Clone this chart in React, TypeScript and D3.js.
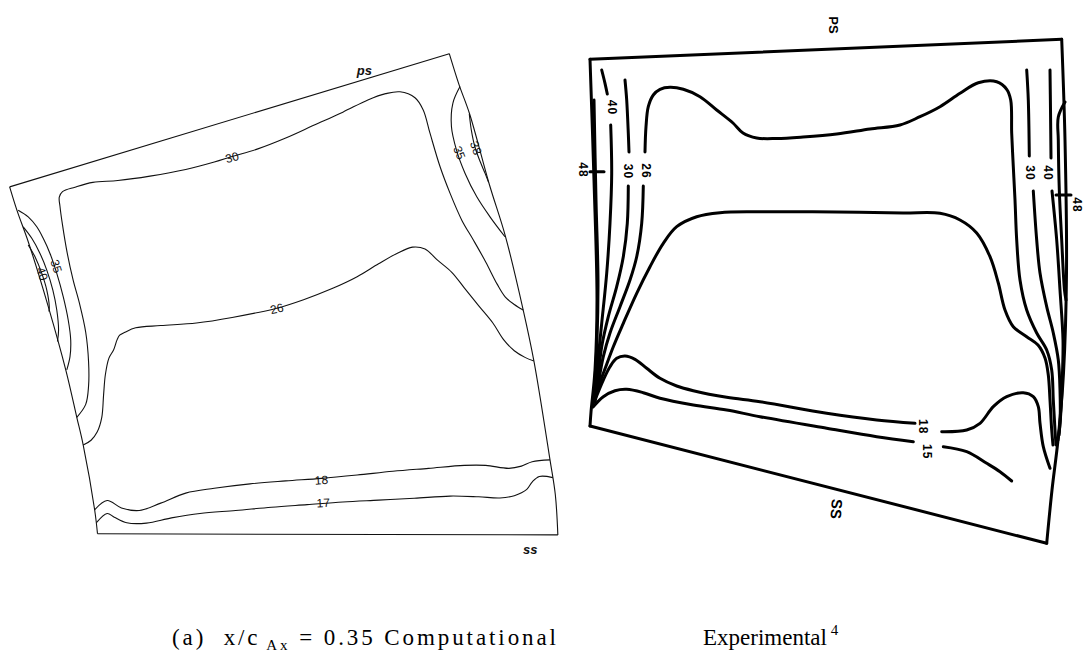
import React from "react";
import * as d3 from "d3";

type P = [number, number];

// ---------- Computational section (digitiser grid 0..1568 on both axes) ----------
const compTop: P[] = [[27, 397], [1258, 37]];
const compLeft: P[] = [[27, 397], [48, 462], [80, 548], [135, 720], [185, 895], [215, 1020], [233, 1095], [265, 1270], [273, 1335]];
const compRight: P[] = [[1258, 37], [1285, 120], [1315, 200], [1370, 390], [1415, 530], [1465, 730], [1495, 868], [1540, 1135], [1555, 1230], [1562, 1338]];
const compBottom: P[] = [[273, 1335], [1562, 1338]];

const comp30: P[] = [[215, 1020], [240, 985], [248, 935], [248, 870], [240, 790], [222, 710], [205, 650], [188, 575], [175, 500], [168, 450], [166, 425], [175, 410], [210, 398], [260, 385], [330, 380], [420, 368], [520, 350], [600, 330], [650, 315], [720, 295], [800, 265], [880, 230], [960, 195], [1030, 162], [1080, 145], [1120, 140], [1162, 156], [1185, 189], [1204, 252], [1232, 342], [1260, 414], [1293, 487], [1325, 540], [1360, 600], [1392, 660], [1415, 695], [1440, 715], [1465, 730]];
const comp26: P[] = [[233, 1095], [255, 1082], [272, 1060], [285, 1020], [290, 960], [295, 905], [305, 860], [318, 838], [328, 810], [335, 798], [350, 790], [380, 778], [450, 772], [550, 765], [650, 750], [775, 725], [850, 702], [930, 672], [1000, 640], [1060, 605], [1110, 578], [1155, 560], [1190, 565], [1225, 595], [1265, 628], [1300, 670], [1340, 718], [1380, 765], [1410, 810], [1440, 840], [1470, 858], [1495, 868]];
const comp18: P[] = [[265, 1270], [300, 1245], [340, 1265], [390, 1272], [450, 1252], [520, 1225], [600, 1212], [700, 1200], [800, 1192], [900, 1185], [1000, 1176], [1100, 1166], [1200, 1158], [1300, 1150], [1360, 1150], [1425, 1158], [1460, 1152], [1490, 1140], [1540, 1135]];
const comp17: P[] = [[270, 1305], [300, 1280], [320, 1290], [355, 1305], [410, 1306], [480, 1292], [560, 1280], [660, 1272], [760, 1263], [860, 1256], [960, 1249], [1060, 1244], [1160, 1239], [1260, 1233], [1340, 1235], [1400, 1238], [1440, 1232], [1475, 1215], [1490, 1195], [1510, 1180], [1548, 1183]];
const comp35R: P[] = [[1288, 126], [1268, 171], [1264, 234], [1278, 297], [1302, 360], [1335, 424], [1372, 478], [1414, 532]];
const comp38R: P[] = [[1314, 200], [1320, 245], [1330, 290], [1345, 330], [1358, 360], [1368, 385]];
const comp35L: P[] = [[51, 460], [79, 478], [103, 505], [121, 536], [140, 577], [159, 631], [177, 694], [191, 757], [198, 811], [196, 856], [187, 892]];
const comp38L: P[] = [[65, 505], [89, 536], [112, 577], [131, 622], [148, 676], [159, 730], [164, 784], [161, 815]];
const comp40L: P[] = [[79, 554], [98, 586], [117, 631], [131, 676], [138, 721], [137, 734]];

// contour labels: [x, y, angle, text]
const compLabels: [number, number, number, string][] = [
  [650, 318, -16, "30"],
  [775, 727, -13, "26"],
  [900, 1190, -4, "18"],
  [905, 1252, -3, "17"],
  [1286, 305, 68, "35"],
  [1332, 292, 70, "38"],
  [157, 612, 72, "35"],
  [118, 632, 72, "40"],
];

// ---------- Experimental section (local units, origin at x = 570) ----------
const expTop: P[] = [[20, 59.3], [491.7, 39.3]];
const expLeft: P[] = [[20, 59.3], [24, 180], [27, 300], [25, 370], [21, 412], [20, 426]];
const expBottom: P[] = [[20, 426], [476.7, 543.3]];
const expRight: P[] = [[491.7, 39.3], [495, 140], [496.5, 273], [493.5, 373], [488, 440], [482, 490], [476.7, 543.3]];

const exp48L: P[] = [[24, 100], [26, 200], [28, 280], [27, 340], [24, 395]];
const exp40LUpper: P[] = [[31.7, 70], [35, 83.3], [37.3, 94]];
const exp40LLower: P[] = [[40.7, 125], [41.7, 173.3], [40, 223.3], [36.7, 273.3], [31.7, 323.3], [28.3, 356.7], [25, 390], [23, 405]];
const exp30LUpper: P[] = [[55, 80], [56.7, 100], [58.3, 133.3], [59, 152]];
const exp30LLower: P[] = [[58.3, 186], [57.3, 223.3], [53.3, 256.7], [46.7, 286.7], [38.3, 316.7], [31.7, 346.7], [28.3, 373.3], [24, 400]];
const exp26LLower: P[] = [[73.3, 186], [71.7, 223.3], [66.7, 256.7], [60, 280], [50, 306.7], [40, 333], [33.3, 356.7], [28.3, 383.3], [25, 402]];
const exp26Upper: P[] = [[75, 152], [76, 126.7], [78.3, 106.7], [83.3, 95], [90, 89.3], [100, 87.3], [113.3, 89.3], [130, 96.7], [146.7, 110], [163, 123], [173, 133], [186.7, 138], [206.7, 138.5], [233, 137], [266.7, 134], [300, 129], [330, 125], [350, 116.7], [370, 106.7], [390, 93.3], [408.3, 82.7], [426.7, 81.7], [436.7, 89.3], [440.7, 100], [441.7, 133.3], [443.3, 166.7], [445, 200], [446.7, 240], [450, 280], [456.7, 310], [466.7, 333], [476.7, 350], [481.7, 370], [483.3, 400], [485, 430], [486, 445]];
const expDome: P[] = [[25, 395], [33.3, 373.3], [43.3, 346.7], [53.3, 323.3], [66.7, 293.3], [80, 266.7], [93.3, 243.3], [106.7, 226.7], [126.7, 216.7], [150, 212.7], [183.3, 211.7], [200, 211.7], [266.7, 212], [333, 213], [370, 213.3], [390, 220], [406.7, 233], [420, 256.7], [428.3, 283], [435, 310], [443.3, 326.7], [456.7, 336.7], [468, 345], [475, 358], [478.3, 375], [480, 400], [481.7, 430], [483, 445]];
const exp30RUpper: P[] = [[456.7, 70], [458.3, 100], [459.3, 156]];
const exp30RLower: P[] = [[463.3, 191], [466.7, 240], [470, 273], [476.7, 306.7], [483.3, 333], [488.3, 360], [490, 390], [490, 423], [488, 440]];
const exp40RUpper: P[] = [[480, 70], [480.5, 110], [481, 158]];
const exp40RLower: P[] = [[482, 191], [486.7, 240], [490, 290], [493, 340], [492.5, 373], [491, 410], [489, 435]];
const exp48R: P[] = [[495, 102], [488.3, 117], [488.3, 140], [489.3, 190], [491.7, 240], [494.5, 290], [496, 300]];
const exp18A: P[] = [[25, 400], [33.3, 380], [40, 366.7], [46.7, 358.3], [55, 356], [65, 359.3], [76.7, 368.3], [90, 378.3], [106.7, 386], [123.3, 390.7], [156.7, 397.3], [190, 401.7], [256.7, 413.3], [306.7, 420], [345, 423.3]];
const exp18B: P[] = [[371.7, 431.7], [396.7, 430], [410, 423.3], [423.3, 406.7], [436.7, 396.7], [453.3, 392.7], [463.3, 396.7], [468.3, 406.7], [470, 423.3], [473.3, 446.7], [480, 468.3]];
const exp15A: P[] = [[23, 407], [33.3, 396.7], [45, 390.7], [56.7, 389.3], [73.3, 392.7], [90, 398.3], [123.3, 405], [156.7, 410], [190, 416.7], [256.7, 428.3], [306.7, 436.7], [343.3, 441.7]];
const exp15B: P[] = [[373.3, 446.7], [396.7, 451.7], [416.7, 463.3], [430, 471.7], [441.7, 481]];
const expLeaders: P[][] = [
  [[20, 171.7], [34, 171.7]],
  [[486, 195], [501, 195]],
];

const expLabels: [number, number, string][] = [
  [41.7, 107.5, "40"],
  [58.3, 171.5, "30"],
  [76, 171, "26"],
  [460, 173, "30"],
  [478.3, 173, "40"],
  [353.3, 426.7, "18"],
  [356.7, 451.7, "15"],
];
const expSideLabels: [number, number, string][] = [
  [12.5, 170, "48"],
  [506.5, 205, "48"],
];

export default function App() {
  const xL = d3.scaleLinear().domain([0, 1568]).range([0, 560]);
  const yL = d3.scaleLinear().domain([0, 1568]).range([40, 620]);
  const xR = d3.scaleLinear().domain([0, 500]).range([570, 1070]);
  const yR = d3.scaleLinear().domain([0, 560]).range([0, 560]);

  const lineL = d3.line<P>().x((d) => xL(d[0])).y((d) => yL(d[1])).curve(d3.curveCatmullRom.alpha(0.5));
  const lineR = d3.line<P>().x((d) => xR(d[0])).y((d) => yR(d[1])).curve(d3.curveCatmullRom.alpha(0.5));

  const compLines = [compTop, compLeft, compRight, compBottom, comp30, comp26, comp18, comp17, comp35R, comp38R, comp35L, comp38L, comp40L];
  const expLines = [expTop, expLeft, expBottom, expRight, exp48L, exp40LUpper, exp40LLower, exp30LUpper, exp30LLower, exp26LLower, exp26Upper, expDome, exp30RUpper, exp30RLower, exp40RUpper, exp40RLower, exp48R, exp18A, exp18B, exp15A, exp15B, ...expLeaders];

  return (
    <svg width={1083} height={657} style={{ position: "absolute", left: 0, top: 0, background: "#fff" }}>
      <g fill="none" stroke="#111" strokeWidth={1.1} strokeLinejoin="round">
        {compLines.map((pts, i) => (
          <path key={i} d={lineL(pts) || ""} />
        ))}
      </g>
      <g fontFamily="Liberation Sans, Arial, sans-serif" fontSize={12} fill="#111">
        {compLabels.map(([x, y, a, t], i) => (
          <text key={i} transform={`translate(${xL(x)},${yL(y)}) rotate(${a})`} textAnchor="middle" dominantBaseline="central">
            {t}
          </text>
        ))}
        <text x={xL(1020)} y={yL(82)} textAnchor="middle" dominantBaseline="central" fontStyle="italic" fontWeight={700} fontSize={13}>ps</text>
        <text x={xL(1485)} y={yL(1377)} textAnchor="middle" dominantBaseline="central" fontStyle="italic" fontWeight={700} fontSize={13}>ss</text>
      </g>

      <g fill="none" stroke="#000" strokeWidth={3} strokeLinejoin="round" strokeLinecap="round">
        {expLines.map((pts, i) => (
          <path key={i} d={lineR(pts) || ""} />
        ))}
      </g>
      <g fontFamily="Liberation Sans, Arial, sans-serif" fontWeight={700} fontSize={12} fill="#000">
        {[...expLabels, ...expSideLabels].map(([x, y, t], i) => (
          <text key={i} transform={`translate(${xR(x)},${yR(y)}) rotate(90)`} textAnchor="middle" dominantBaseline="central" letterSpacing={1}>
            {t}
          </text>
        ))}
        <text transform={`translate(${xR(263)},${yR(25)}) rotate(90)`} textAnchor="middle" dominantBaseline="central" fontSize={13}>PS</text>
        <text transform={`translate(${xR(266.7)},${yR(509)}) rotate(95)`} textAnchor="middle" dominantBaseline="central" fontSize={15}>SS</text>
      </g>

      <g fontFamily="Liberation Serif, Times New Roman, serif" fill="#000" fontSize={23}>
        <text x={172} y={645} textLength={384} lengthAdjust="spacing" style={{ whiteSpace: "pre" }}>
          {"(a)  x/c"}
          <tspan fontSize={15} dy={5}>{" Ax"}</tspan>
          <tspan dy={-5}>{" = 0.35 Computational"}</tspan>
        </text>
        <text x={703} y={645}>
          Experimental
          <tspan fontSize={15} dy={-10}>{" 4"}</tspan>
        </text>
      </g>
    </svg>
  );
}
